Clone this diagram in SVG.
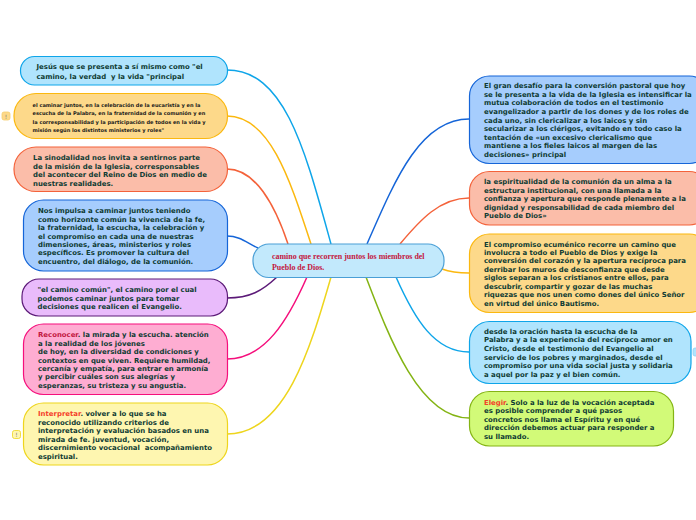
<svg xmlns="http://www.w3.org/2000/svg" width="696" height="520" viewBox="0 0 696 520">
<style>
.c{fill:none;stroke-width:1.5}
.n{stroke-width:1.2}
text{font-family:"DejaVu Sans",Verdana,sans-serif;font-weight:700;font-size:6.93px;fill:#0e3b33;white-space:pre}
.s{font-size:5.05px;fill:#1a1a1a}
.t{font-family:"Liberation Serif","Times New Roman",serif;font-size:7.95px;fill:#c2173f}
.b{font-size:6px;font-weight:400;fill:#777}
</style>
<rect width="696" height="520" fill="#fff"/>
<g id="connectors">
<path class="c" stroke="#0ea5e9" d="M227 70C285 70 305 150 331 244"/>
<path class="c" stroke="#fbb80f" d="M227 116C270 116 290 180 311 244"/>
<path class="c" stroke="#f4623a" d="M227 169C255 169 275 205 288 244"/>
<path class="c" stroke="#1565d8" d="M227 236C240 236 247 243 258 248"/>
<path class="c" stroke="#5c1a78" d="M227 298C250 298 262 291 277 277"/>
<path class="c" stroke="#f50f7c" d="M227 359C265 359 288 320 307 277"/>
<path class="c" stroke="#eed51d" d="M227 434C285 434 310 350 331 277"/>
<path class="c" stroke="#1565d8" d="M469 119C420 119 395 180 367 244"/>
<path class="c" stroke="#f4623a" d="M469 198C440 198 420 220 400 244"/>
<path class="c" stroke="#fbb80f" d="M469 273C458 273 450 272 442 269"/>
<path class="c" stroke="#0ea5e9" d="M469 352C435 352 415 320 396 277"/>
<path class="c" stroke="#84b414" d="M469 418C420 418 390 340 366 277"/>
</g>
<g id="center"><rect class="n" x="253" y="244" width="191" height="33.500" rx="16" fill="#c2e9fc" stroke="#4a9fd6"/>
<text class="t" x="272" y="259">camino que recorren juntos los miembros del</text><text class="t" x="272" y="270">Pueblo de Dios.</text></g>
<g id="n1"><rect class="n" x="20.500" y="56.500" width="207" height="28.500" rx="14" fill="#b0e4fd" stroke="#0ea5e9"/>
<text x="36.500" y="69">Jesús que se presenta a sí mismo como "el</text><text x="36.500" y="78.500">camino, la verdad  y la vida "principal</text></g>
<g id="n2"><rect class="n" x="14" y="93.500" width="213.500" height="45" rx="22" fill="#fdd98a" stroke="#fbb80f"/>
<rect x="2" y="112" width="8" height="8" rx="2" fill="#fdd98a" stroke="#f5ce70" stroke-width=".8"/><text class="b" x="4.800" y="118.500">!</text>
<text class="s" x="32.500" y="106.500">el caminar juntos, en la celebración de la eucaristía y en la</text><text class="s" x="32.500" y="114.800">escucha de la Palabra, en la fraternidad de la comunión y en</text><text class="s" x="32.500" y="123.500">la corresponsabilidad y la participación de todos en la vida y</text><text class="s" x="32.500" y="131.500">misión según los distintos ministerios y roles"</text></g>
<g id="n3"><rect class="n" x="14" y="147" width="213.500" height="44.500" rx="22" fill="#fbbda9" stroke="#f4623a"/>
<text x="33" y="159.500">La sinodalidad nos invita a sentirnos parte</text><text x="33" y="168.500">de la misión de la Iglesia, corresponsables</text><text x="33" y="177">del acontecer del Reino de Dios en medio de</text><text x="33" y="185.500">nuestras realidades.</text></g>
<g id="n4"><rect class="n" x="23.500" y="200" width="204" height="71" rx="20" fill="#a6cdfd" stroke="#1565d8"/>
<text x="38" y="213">Nos impulsa a caminar juntos teniendo</text><text x="38" y="221.500">como horizonte común la vivencia de la fe,</text><text x="38" y="230">la fraternidad, la escucha, la celebración y</text><text x="38" y="238.500">el compromiso en cada una de nuestras</text><text x="38" y="247">dimensiones, áreas, ministerios y roles</text><text x="38" y="255">específicos. Es promover la cultura del</text><text x="38" y="264">encuentro, del diálogo, de la comunión.</text></g>
<g id="n5"><rect class="n" x="22" y="279" width="205.500" height="37" rx="17" fill="#e9bbfb" stroke="#5c1a78"/>
<text x="37.500" y="292">"el camino común", el camino por el cual</text><text x="37.500" y="300.500">podemos caminar juntos para tomar</text><text x="37.500" y="309">decisiones que realicen el Evangelio.</text></g>
<g id="n6"><rect class="n" x="23.500" y="324" width="204" height="70.500" rx="20" fill="#feadd2" stroke="#f50f7c"/>
<text x="38" y="337"><tspan fill="#c2173f">Reconocer</tspan>. la mirada y la escucha. atención</text><text x="38" y="345.500">a la realidad de los jóvenes</text><text x="38" y="354">de hoy, en la diversidad de condiciones y</text><text x="38" y="362.500">contextos en que viven. Requiere humildad,</text><text x="38" y="371">cercanía y empatía, para entrar en armonía</text><text x="38" y="379">y percibir cuáles son sus alegrías y</text><text x="38" y="388">esperanzas, su tristeza y su angustia.</text></g>
<g id="n7"><rect class="n" x="23.500" y="403" width="204" height="62" rx="20" fill="#fef6b0" stroke="#eed51d"/>
<rect x="12.500" y="430.500" width="8" height="8" rx="2" fill="#fef6b0" stroke="#eed51d" stroke-width=".8"/><text class="b" x="15.300" y="437">!</text>
<text x="38" y="416"><tspan fill="#f4402a">Interpretar</tspan>. volver a lo que se ha</text><text x="38" y="424.500">reconocido utilizando criterios de</text><text x="38" y="433">interpretación y evaluación basados en una</text><text x="38" y="441.500">mirada de fe. juventud, vocación,</text><text x="38" y="450">discernimiento vocacional  acompañamiento</text><text x="38" y="458.500">espiritual.</text></g>
<g id="r1"><rect class="n" x="469.500" y="76" width="240" height="87.500" rx="20" fill="#a6cdfd" stroke="#1565d8"/>
<text x="484" y="88">El gran desafío para la conversión pastoral que hoy</text><text x="484" y="97">se le presenta a la vida de la Iglesia es intensificar la</text><text x="484" y="105">mutua colaboración de todos en el testimonio</text><text x="484" y="114">evangelizador a partir de los dones y de los roles de</text><text x="484" y="122.500">cada uno, sin clericalizar a los laicos y sin</text><text x="484" y="131">secularizar a los clérigos, evitando en todo caso la</text><text x="484" y="139.500">tentación de «un excesivo clericalismo que</text><text x="484" y="148">mantiene a los fieles laicos al margen de las</text><text x="484" y="156.500">decisiones» principal</text></g>
<g id="r2"><rect class="n" x="469.500" y="171.500" width="240" height="53.500" rx="20" fill="#fbbda9" stroke="#f4623a"/>
<text x="484" y="184">la espiritualidad de la comunión da un alma a la</text><text x="484" y="193">estructura institucional, con una llamada a la</text><text x="484" y="201">confianza y apertura que responde plenamente a la</text><text x="484" y="210">dignidad y responsabilidad de cada miembro del</text><text x="484" y="218">Pueblo de Dios»</text></g>
<g id="r3"><rect class="n" x="469.500" y="234" width="240" height="78.500" rx="20" fill="#fdd98a" stroke="#fbb80f"/>
<text x="484" y="246.500">El compromiso ecuménico recorre un camino que</text><text x="484" y="255">involucra a todo el Pueblo de Dios y exige la</text><text x="484" y="263">conversión del corazón y la apertura recíproca para</text><text x="484" y="272">derribar los muros de desconfianza que desde</text><text x="484" y="280">siglos separan a los cristianos entre ellos, para</text><text x="484" y="289">descubrir, compartir y gozar de las muchas</text><text x="484" y="297">riquezas que nos unen como dones del único Señor</text><text x="484" y="306">en virtud del único Bautismo.</text></g>
<g id="r4"><rect class="n" x="469.500" y="321.500" width="221.500" height="62" rx="20" fill="#b0e4fd" stroke="#0ea5e9"/>
<rect x="693" y="348" width="8" height="8" rx="2" fill="#b0e4fd" stroke="#8fd3f5" stroke-width=".8"/>
<text x="484" y="334">desde la oración hasta la escucha de la</text><text x="484" y="342">Palabra y a la experiencia del recíproco amor en</text><text x="484" y="351">Cristo, desde el testimonio del Evangelio al</text><text x="484" y="359.500">servicio de los pobres y marginados, desde el</text><text x="484" y="368">compromiso por una vida social justa y solidaria</text><text x="484" y="376.500">a aquel por la paz y el bien común.</text></g>
<g id="r5"><rect class="n" x="469.500" y="391.500" width="204" height="54.500" rx="20" fill="#d2fa78" stroke="#84b414"/>
<text x="484" y="405"><tspan fill="#f4402a">Elegir</tspan>. Solo a la luz de la vocación aceptada</text><text x="484" y="413">es posible comprender a qué pasos</text><text x="484" y="421.500">concretos nos llama el Espíritu y en qué</text><text x="484" y="430">dirección debemos actuar para responder a</text><text x="484" y="439">su llamado.</text></g>
</svg>
